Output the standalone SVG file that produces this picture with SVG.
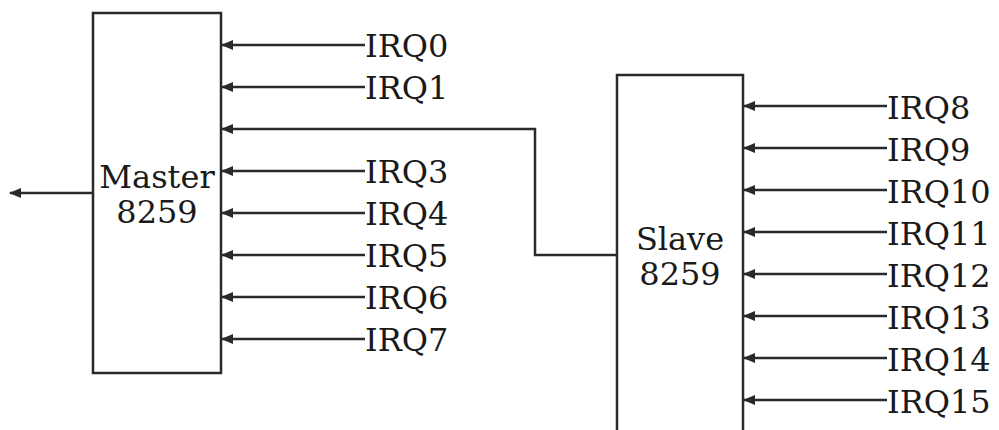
<svg xmlns="http://www.w3.org/2000/svg" width="999" height="430" viewBox="0 0 999 430">
<style>
.box{fill:#fff;stroke:#2a2a2a;stroke-width:2.5}
.w{fill:none;stroke:#2a2a2a;stroke-width:2.5}
.t{font-family:"DejaVu Serif","Liberation Serif",serif;font-size:32px;fill:#1a1a1a}
.c{text-anchor:middle}
</style>
<defs>
<marker id="ah" viewBox="0 0 12 10" refX="11" refY="5" markerWidth="12" markerHeight="10" markerUnits="userSpaceOnUse" orient="auto">
<path d="M0,0 L12,5 L0,10 Z" fill="#2a2a2a"/>
</marker>
</defs>
<rect width="999" height="430" fill="#fff"/>
<g id="master">
<rect class="box" x="93" y="13" width="128" height="360"/>
<text class="t c" x="157" y="188">Master</text>
<text class="t c" x="157" y="223">8259</text>
</g>
<g id="slave">
<path class="box" d="M617,440 L617,75 L743,75 L743,440"/>
<text class="t c" x="680" y="250">Slave</text>
<text class="t c" x="680" y="285">8259</text>
</g>
<g id="master-irqs">
<text class="t" x="365" y="57">IRQ0</text>
<text class="t" x="365" y="99">IRQ1</text>
<text class="t" x="365" y="183">IRQ3</text>
<text class="t" x="365" y="225">IRQ4</text>
<text class="t" x="365" y="267">IRQ5</text>
<text class="t" x="365" y="309">IRQ6</text>
<text class="t" x="365" y="351">IRQ7</text>
</g>
<g id="slave-irqs">
<text class="t" x="887" y="119">IRQ8</text>
<text class="t" x="887" y="161">IRQ9</text>
<text class="t" x="887" y="203">IRQ10</text>
<text class="t" x="887" y="245">IRQ11</text>
<text class="t" x="887" y="287">IRQ12</text>
<text class="t" x="887" y="329">IRQ13</text>
<text class="t" x="887" y="371">IRQ14</text>
<text class="t" x="887" y="413">IRQ15</text>
</g>
<g id="connectors">
<path class="w" d="M93,193 H10" marker-end="url(#ah)"/>
<path class="w" d="M365,45 H222" marker-end="url(#ah)"/>
<path class="w" d="M365,87 H222" marker-end="url(#ah)"/>
<path class="w" d="M617,255 H535 V129 H222" marker-end="url(#ah)"/>
<path class="w" d="M365,171 H222" marker-end="url(#ah)"/>
<path class="w" d="M365,213 H222" marker-end="url(#ah)"/>
<path class="w" d="M365,255 H222" marker-end="url(#ah)"/>
<path class="w" d="M365,297 H222" marker-end="url(#ah)"/>
<path class="w" d="M365,339 H222" marker-end="url(#ah)"/>
<path class="w" d="M887,106 H744" marker-end="url(#ah)"/>
<path class="w" d="M887,148 H744" marker-end="url(#ah)"/>
<path class="w" d="M887,190 H744" marker-end="url(#ah)"/>
<path class="w" d="M887,232 H744" marker-end="url(#ah)"/>
<path class="w" d="M887,274 H744" marker-end="url(#ah)"/>
<path class="w" d="M887,316 H744" marker-end="url(#ah)"/>
<path class="w" d="M887,358 H744" marker-end="url(#ah)"/>
<path class="w" d="M887,400 H744" marker-end="url(#ah)"/>
</g>
</svg>
